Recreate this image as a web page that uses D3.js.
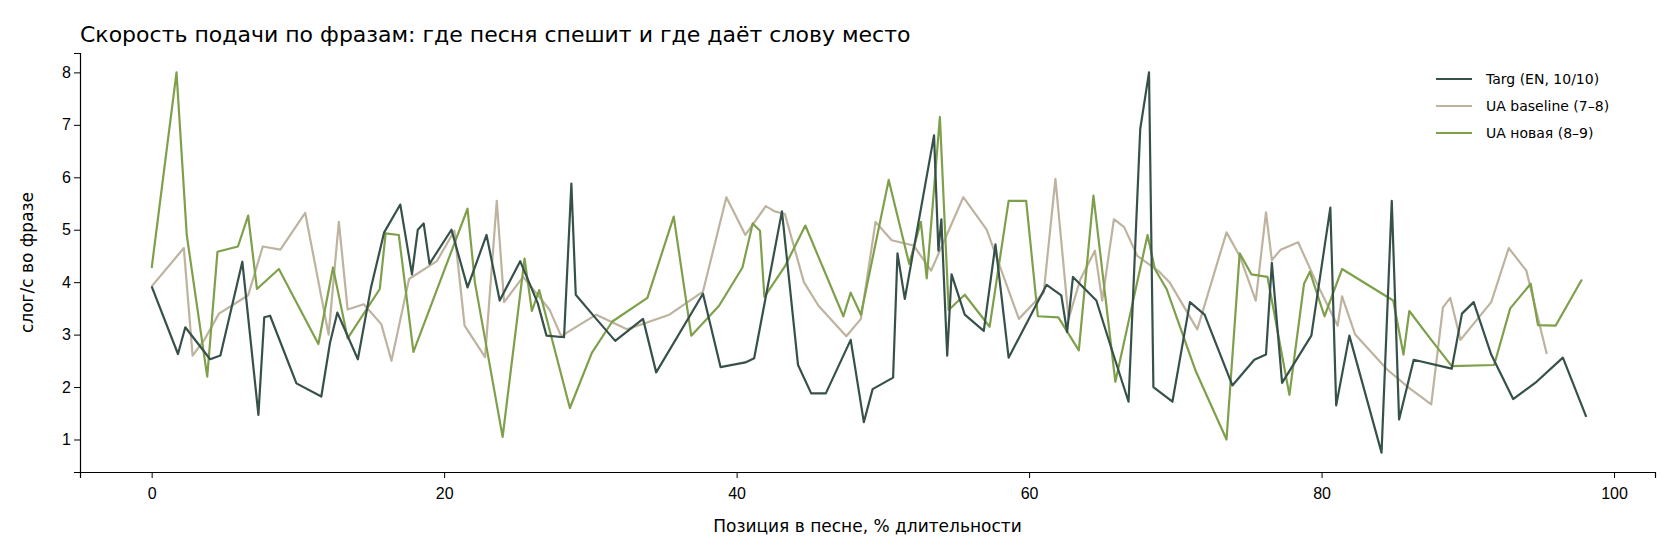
<!DOCTYPE html>
<html><head><meta charset="utf-8">
<script src="https://cdn.jsdelivr.net/npm/d3@7"></script>
<style>body{margin:0;background:#fff}svg{font-family:"DejaVu Sans",sans-serif}</style>
</head><body><div id="viz"></div>
<script>
// phrase position (% of song), syllables/sec
var targX = [0,1.8,2.3,4.0,4.7,6.2,7.3,7.7,8.1,9.9,11.6,12.2,12.7,14.1,15.0,15.9,17.0,17.8,18.2,18.6,19.0,20.5,21.6,22.9,23.8,25.2,26.4,27.0,28.2,28.7,29.0,30.4,31.7,33.6,34.5,37.7,38.9,40.6,41.2,43.1,44.2,45.1,46.1,47.8,48.7,49.3,50.7,51.0,51.5,53.5,53.8,54.0,54.4,54.7,55.6,56.9,57.7,58.6,61.2,62.2,62.6,63.0,64.6,65.5,66.8,67.6,68.2,68.5,69.8,71.0,72.0,73.9,75.4,76.2,76.6,77.3,79.3,80.6,81.0,81.9,84.1,84.8,85.3,86.3,88.9,89.6,90.4,91.6,93.1,94.7,96.5,98.1];
var targY = [3.92,2.63,3.14,2.53,2.6,4.39,1.47,3.33,3.36,2.07,1.82,2.85,3.42,2.53,3.9,4.95,5.48,4.15,5.0,5.12,4.35,5.0,3.9,4.9,3.65,4.4,3.6,2.98,2.95,5.88,3.76,3.3,2.88,3.3,2.28,3.78,2.38,2.47,2.55,5.35,2.42,1.88,1.88,2.9,1.33,1.96,2.18,4.55,3.68,6.8,4.6,5.2,2.6,4.15,3.38,3.07,4.72,2.56,3.95,3.75,3.05,4.1,3.65,2.85,1.72,6.92,8.0,2.0,1.72,3.62,3.38,2.03,2.52,2.62,4.37,2.08,2.98,5.42,1.65,2.98,0.75,5.55,1.38,2.52,2.35,3.4,3.62,2.62,1.77,2.1,2.56,1.43];

var baseX = [0,2.2,2.8,3.6,4.6,6.6,7.6,8.8,10.5,12.1,12.8,13.4,14.5,15.7,16.4,17.6,19.5,20.7,21.4,22.8,23.6,24.1,25.4,27.2,28.0,30.4,32.5,35.4,37.7,39.3,40.6,42.0,42.6,43.3,44.6,45.6,47.5,48.5,49.5,50.6,52.1,53.3,55.5,57.1,59.3,61.0,61.8,62.7,63.5,64.5,65.0,65.8,66.5,67.4,68.9,69.6,71.5,73.5,74.4,75.5,76.2,76.6,77.2,78.4,79.6,81.1,81.4,82.3,84.5,86.0,87.5,88.3,88.8,89.5,91.6,92.8,94.0,95.4];
var baseY = [3.92,4.65,2.6,2.9,3.4,3.75,4.68,4.62,5.32,3.0,5.15,3.48,3.58,3.2,2.5,4.06,4.4,4.98,3.17,2.57,5.55,3.62,4.1,3.48,2.97,3.38,3.1,3.38,3.82,5.62,4.9,5.45,5.35,5.3,4.0,3.55,2.97,3.3,5.15,4.8,4.7,4.22,5.62,5.0,3.3,3.8,5.97,3.3,4.05,4.6,3.65,5.2,5.05,4.5,4.2,4.0,3.1,4.95,4.5,3.65,5.33,4.42,4.62,4.76,4.02,3.17,3.73,3.0,2.33,1.98,1.67,3.52,3.7,2.9,3.62,4.65,4.22,2.63];

var novX = [0,1.7,2.4,3.8,4.5,5.9,6.6,7.2,8.7,11.4,12.4,13.4,15.6,16.0,16.9,17.9,21.6,22.1,24.0,25.5,26.0,26.5,28.6,30.1,31.5,33.9,35.7,36.9,38.8,40.4,41.1,41.6,41.9,43.3,44.7,47.3,47.8,48.5,50.4,51.8,52.6,53.0,53.9,54.5,55.6,57.3,58.6,59.8,60.6,62.0,63.4,64.4,65.9,68.1,68.6,69.4,71.4,73.5,74.4,75.2,76.3,77.8,78.8,79.2,80.2,81.4,84.9,85.6,86.0,87.5,88.9,91.8,92.9,94.3,94.8,96.0,97.8];
var novY = [4.27,8.0,4.9,2.2,4.58,4.68,5.27,3.87,4.25,2.82,4.28,2.93,3.87,4.93,4.9,2.67,5.4,4.0,1.05,4.45,3.45,3.85,1.6,2.65,3.25,3.7,5.25,2.98,3.55,4.28,5.12,4.98,3.72,4.3,5.08,3.35,3.8,3.38,5.95,4.35,5.15,4.07,7.15,3.47,3.76,3.15,5.55,5.55,3.35,3.33,2.7,5.65,2.1,4.9,4.25,3.87,2.3,1.0,4.55,4.15,4.1,1.85,3.97,4.2,3.35,4.25,3.65,2.62,3.45,2.9,2.4,2.42,3.5,3.97,3.18,3.17,4.05];

var seriesNames = ["Targ (EN, 10/10)", "UA baseline (7–8)", "UA новая (8–9)"];
var colors = ["#36514a", "#bdb39e", "#7ea04b"];
var xTicks = [0,20,40,60,80,100];
var yTicks = [1,2,3,4,5,6,7,8];

var W = 1680, H = 560;
var m = {l:80, r:25, t:53, b:88};
var svg = d3.select("#viz").append("svg").attr("width", W).attr("height", H);

var x = d3.scaleLinear().domain([-4.9, 102.8]).range([m.l, W - m.r]);
var y = d3.scaleLinear().domain([0.38, 8.37]).range([H - m.b, m.t]);

var g = svg.append("g");
g.append("g").attr("transform", "translate(0," + (H - m.b) + ")")
  .call(d3.axisBottom(x).tickValues(xTicks).tickFormat(d3.format("d")).tickSizeOuter(0).tickSize(6))
  .call(function(a){ a.selectAll("text").attr("font-size", 16).attr("dy", "1.1em"); });
g.append("g").attr("transform", "translate(" + m.l + ",0)")
  .call(d3.axisLeft(y).tickValues(yTicks).tickSizeOuter(0).tickSize(6))
  .call(function(a){ a.selectAll("text").attr("font-size", 16); });
g.selectAll(".domain").attr("stroke", "#000").attr("stroke-width", 1.2);

var data = [[targX, targY], [baseX, baseY], [novX, novY]];
var line = d3.line().x(function(d){ return x(d[0]); }).y(function(d){ return y(d[1]); });
var order = [1, 2, 0];
order.forEach(function(i){
  var pts = data[i][0].map(function(v, k){ return [v, data[i][1][k]]; });
  svg.append("path").datum(pts).attr("d", line)
    .attr("fill", "none").attr("stroke", colors[i]).attr("stroke-width", 2.2)
    .attr("stroke-linejoin", "round");
});

svg.append("text").attr("x", 80).attr("y", 42).attr("font-size", 22)
  .text("Скорость подачи по фразам: где песня спешит и где даёт слову место");
svg.append("text").attr("x", (m.l + W - m.r) / 2).attr("y", 532).attr("text-anchor", "middle")
  .attr("font-size", 17).text("Позиция в песне, % длительности");
svg.append("text").attr("transform", "translate(33," + ((m.t + H - m.b) / 2) + ") rotate(-90)")
  .attr("text-anchor", "middle").attr("font-size", 17).text("слог/с во фразе");

var leg = svg.append("g").attr("transform", "translate(1436,79)");
seriesNames.forEach(function(n, i){
  leg.append("line").attr("x1", 0).attr("x2", 36).attr("y1", i * 27).attr("y2", i * 27)
    .attr("stroke", colors[i]).attr("stroke-width", 2.2);
  leg.append("text").attr("x", 50).attr("y", i * 27 + 5).attr("font-size", 14).text(n);
});
</script></body></html>
